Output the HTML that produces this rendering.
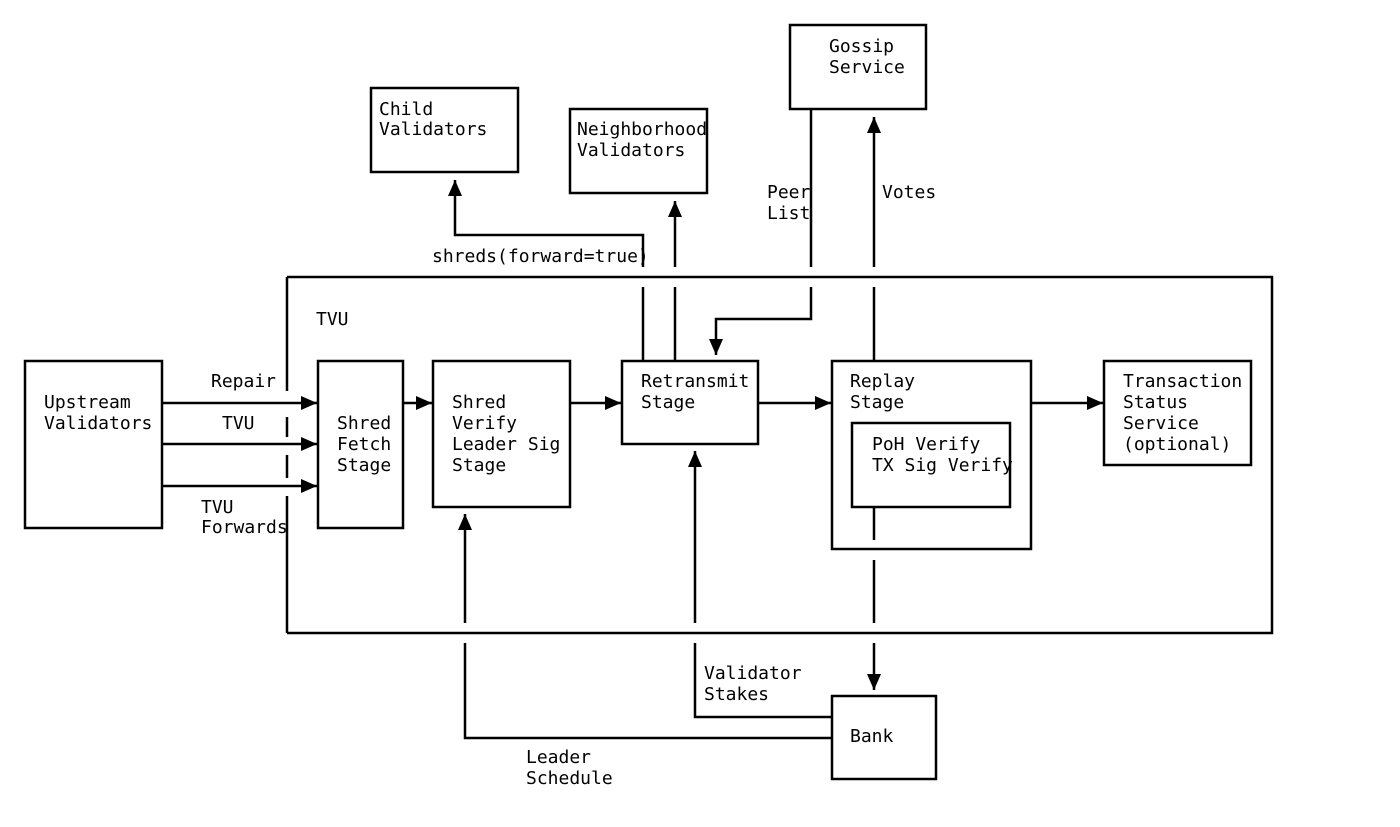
<!DOCTYPE html>
<html><head><style>html,body{margin:0;padding:0;background:#fff}svg{display:block}text{font-family:"DejaVu Sans Mono","Liberation Mono",monospace;font-size:18px;fill:#000}</style></head>
<body>
<svg width="1400" height="827" viewBox="0 0 1400 827" xmlns="http://www.w3.org/2000/svg">
<defs>
<marker id="b" viewBox="0 0 16 14" markerWidth="16" markerHeight="14" refX="16" refY="7" orient="auto" markerUnits="userSpaceOnUse"><path d="M0,0 L16,7 L0,14 z" fill="#000"/></marker></defs>
<g fill="none" stroke="#000" stroke-width="2.5">
<path d="M287,277 H1272 V633 H287"/>
<path d="M287,277 V391 M287,417 V437 M287,455 V478 M287,496 V633"/>
<rect x="25" y="361" width="137" height="167"/>
<rect x="318" y="361" width="85" height="167"/>
<rect x="433" y="361" width="137" height="146"/>
<rect x="622" y="361" width="136" height="83"/>
<rect x="832" y="361" width="199" height="188"/>
<rect x="852" y="423" width="158" height="84"/>
<rect x="1104" y="361" width="147" height="104"/>
<rect x="371" y="88" width="147" height="84"/>
<rect x="570" y="109" width="137" height="84"/>
<rect x="790" y="25" width="136" height="84"/>
<rect x="832" y="696" width="104" height="83"/>
<path d="M162,403 H317" marker-end="url(#b)"/>
<path d="M162,444 H317" marker-end="url(#b)"/>
<path d="M162,486 H317" marker-end="url(#b)"/>
<path d="M403,403 H432" marker-end="url(#b)"/>
<path d="M570,403 H621" marker-end="url(#b)"/>
<path d="M758,403 H831" marker-end="url(#b)"/>
<path d="M1031,403 H1103" marker-end="url(#b)"/>
<path d="M643,361 V287 M643,267 V235 H455 V180" marker-end="url(#b)"/>
<path d="M675,361 V287 M675,267 V201" marker-end="url(#b)"/>
<path d="M811,109 V267 M811,287 V319 H716 V355" marker-end="url(#b)"/>
<path d="M874,361 V287 M874,267 V117" marker-end="url(#b)"/>
<path d="M874,507 V540 M874,560 V623 M874,643 V690" marker-end="url(#b)"/>
<path d="M832,717 H695 V643 M695,623 V451" marker-end="url(#b)"/>
<path d="M832,738 H465 V643 M465,623 V514" marker-end="url(#b)"/>
</g>
<text x="379" y="115">Child</text><text x="379" y="135">Validators</text>
<text x="577" y="135">Neighborhood</text><text x="577" y="156">Validators</text>
<text x="829" y="52">Gossip</text><text x="829" y="73">Service</text>
<text x="767" y="198">Peer</text><text x="767" y="219">List</text>
<text x="882" y="198">Votes</text>
<text x="432" y="262">shreds(forward=true)</text>
<text x="316" y="325">TVU</text>
<text x="44" y="408">Upstream</text><text x="44" y="429">Validators</text>
<text x="211" y="387">Repair</text>
<text x="222" y="429">TVU</text>
<text x="201" y="513">TVU</text><text x="201" y="533">Forwards</text>
<text x="337" y="429">Shred</text><text x="337" y="450">Fetch</text><text x="337" y="471">Stage</text>
<text x="452" y="408">Shred</text><text x="452" y="429">Verify</text><text x="452" y="450">Leader Sig</text><text x="452" y="471">Stage</text>
<text x="641" y="387">Retransmit</text><text x="641" y="408">Stage</text>
<text x="850" y="387">Replay</text><text x="850" y="408">Stage</text>
<text x="872" y="450">PoH Verify</text><text x="872" y="471">TX Sig Verify</text>
<text x="1123" y="387">Transaction</text><text x="1123" y="408">Status</text><text x="1123" y="429">Service</text><text x="1123" y="450">(optional)</text>
<text x="704" y="679">Validator</text><text x="704" y="700">Stakes</text>
<text x="850" y="742">Bank</text>
<text x="526" y="763">Leader</text><text x="526" y="784">Schedule</text>
</svg>
</body></html>
